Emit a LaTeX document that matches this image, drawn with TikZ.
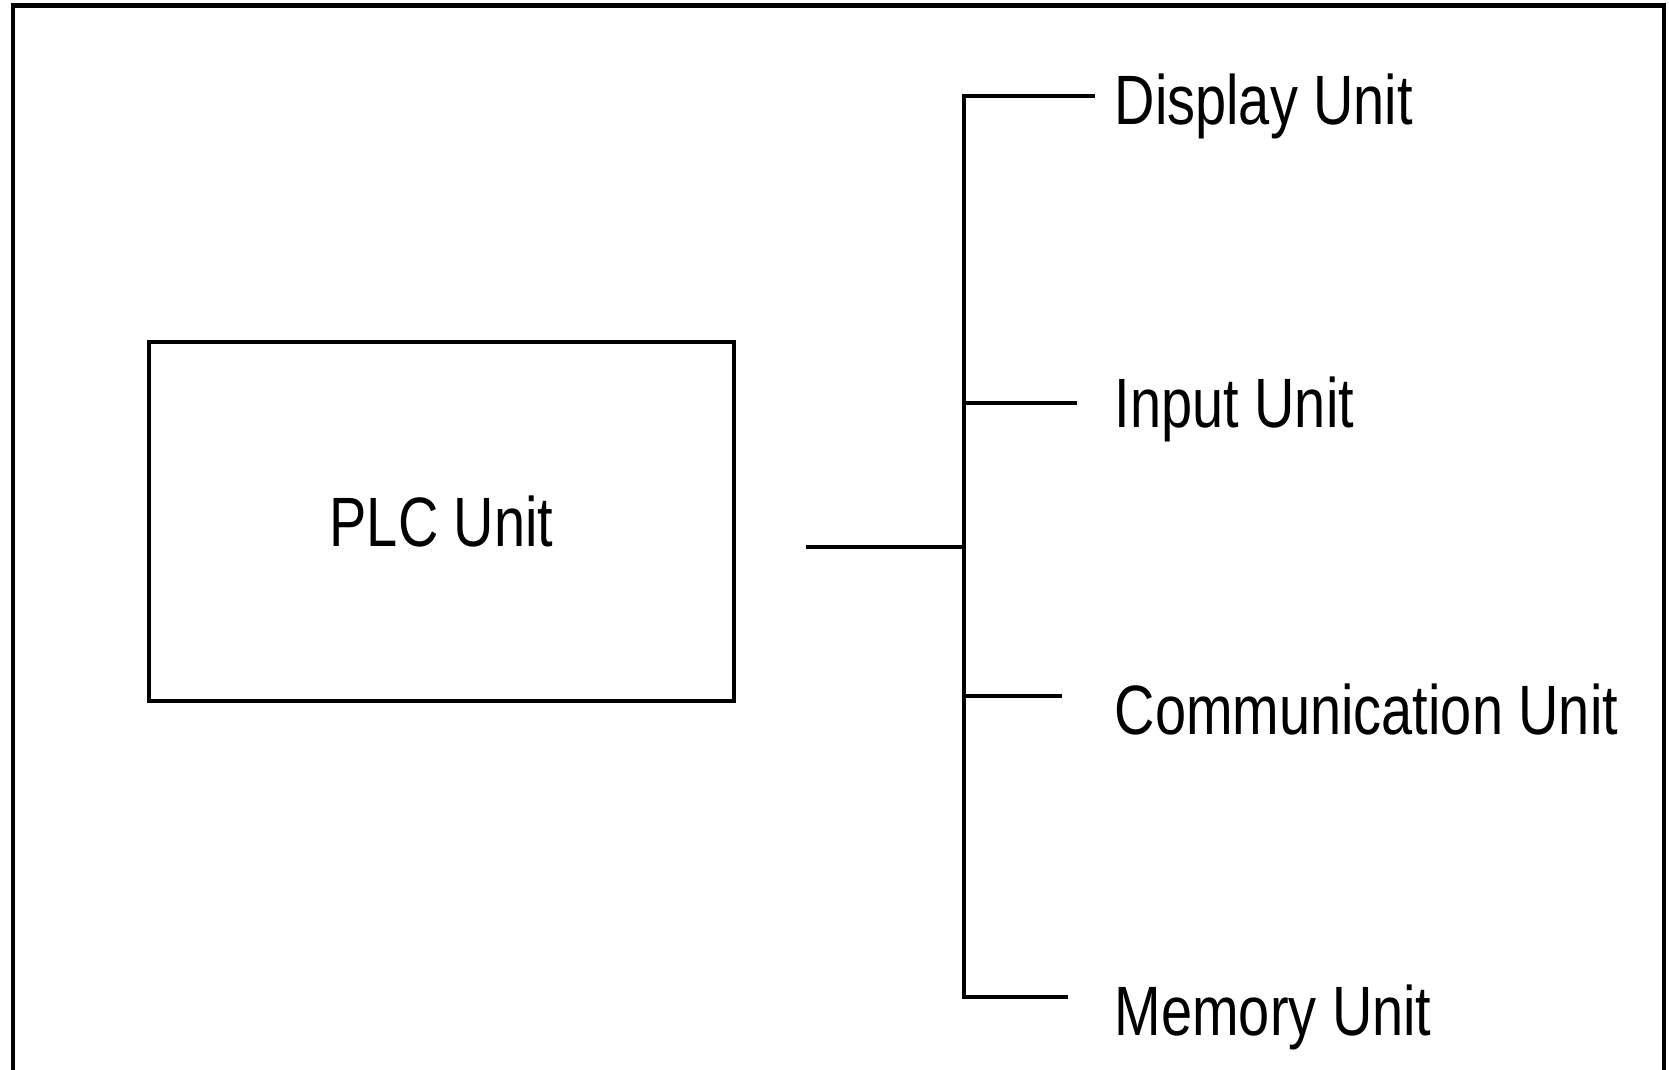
\documentclass[tikz,border=0pt]{standalone}
\usepackage{fontspec}
\setmainfont{Liberation Sans}
\usepackage{graphicx}
\usetikzlibrary{positioning}
\newcommand{\tallbox}[1]{\scalebox{1}[1.25]{#1}}
\tikzset{
    unitlabel/.style={font=\fontsize{15.9}{19}\selectfont, inner sep=0pt, anchor=base west},
    plcbox/.style={draw, line width=1.1pt, minimum width=5.85cm, minimum height=3.59cm,
        font=\fontsize{15.9}{19}\selectfont, inner sep=0pt},
    bus/.style={line width=1.1pt, line cap=rect}
}

\begin{document}
\begin{tikzpicture}[x=0.01cm, y=-0.01cm]
    \useasboundingbox (0,0) rectangle (1669,1070);
    \def \busx {964}
    \def \textx {1114}
    % frame, open at the bottom
    \draw[line width=1.2pt] (13,1090) -- (13,5.5) -- (1664,5.5) -- (1664,1090);
    \node[plcbox] (plc) at (441.5,521.5) {\tallbox{PLC Unit}};
    % units hanging off the bus
    \node[unitlabel] (disp) at (\textx,125) {\tallbox{Display Unit}};
    \node[unitlabel] (inp) at (\textx,427) {\tallbox{Input Unit}};
    \node[unitlabel] (comm) at (\textx,734) {\tallbox{Communication Unit}};
    \node[unitlabel] (mem) at (\textx,1035) {\tallbox{Memory Unit}};
    \coordinate (c0) at (808,547);
    \coordinate (j0) at (\busx,547);
    \coordinate (b1) at (\busx,96);
    \coordinate (b2) at (\busx,403);
    \coordinate (b3) at (\busx,696);
    \coordinate (b4) at (\busx,997);
    \coordinate (e1) at (1093,96);
    \coordinate (e2) at (1075,403);
    \coordinate (e3) at (1060,696);
    \coordinate (e4) at (1066,997);
    \draw[bus] (e1) -- (b1) -- (b4) -- (e4);
    \draw[bus] (b2) -- (e2);
    \draw[bus] (b3) -- (e3);
    \draw[bus] (c0) -- (j0);
\end{tikzpicture}
\end{document}
